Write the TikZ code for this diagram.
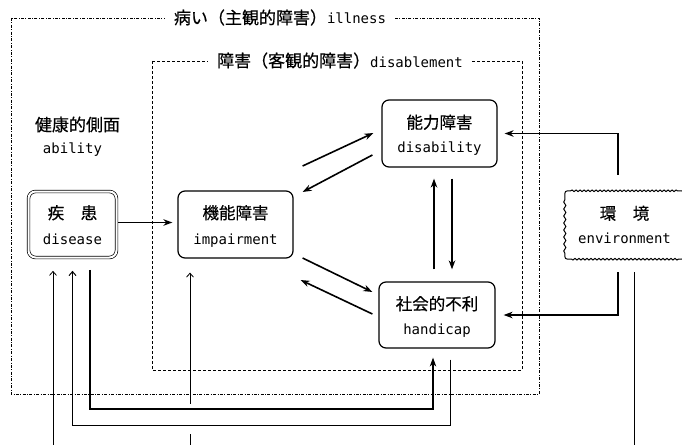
\documentclass[tikz,border=0pt]{standalone}
\usepackage{fontspec}
\newfontfamily\cjk[FakeBold=0.5]{Noto Sans CJK JP}
\newfontfamily\mono{DejaVu Sans Mono}
\usetikzlibrary{arrows.meta,calc,decorations.pathmorphing}
\begin{document}
\begin{tikzpicture}[x=1pt,y=-1pt,
  box/.style={draw, line width=1.2pt, rounded corners=7pt, inner sep=0pt},
  jp/.style={font=\cjk\fontsize{16.5}{18}\selectfont, anchor=base, inner sep=0pt},
  jpt/.style={font=\cjk\fontsize{17}{19}\selectfont, anchor=base, inner sep=0pt},
  en/.style={font=\mono\fontsize{14}{16}\selectfont, anchor=base, inner sep=0pt},
  arr/.style={line width=1.6pt, -{Stealth[length=9pt,width=6.5pt]}},
  thinarr/.style={line width=0.8pt, -{Straight Barb[length=4pt,width=7pt]}},
  thinline/.style={line width=0.8pt},
  outerframe/.style={line width=0.6pt, dash pattern=on 3pt off 1.5pt on 0.8pt off 1.5pt},
  innerframe/.style={line width=0.6pt, dash pattern=on 3pt off 2pt},
  titlebox/.style={fill=white, inner xsep=9pt, inner ysep=2pt},
  wavyh/.style={decoration={snake, amplitude=0.8pt, segment length=4pt}},
  wavyv/.style={decoration={snake, amplitude=1.1pt, segment length=7pt}}
]
\useasboundingbox (0,0) rectangle (682,444);

% frames
\draw[outerframe] (11,18) rectangle (539,394);
\draw[innerframe] (152,61) rectangle (522,370);
\node[titlebox, anchor=base] (illt) at (280,24) {{\cjk\fontsize{17}{19}\selectfont 病い（主観的障害）}{\mono\fontsize{14}{16}\selectfont illness}};
\node[titlebox, anchor=base] (disat) at (340,67) {{\cjk\fontsize{17}{19}\selectfont 障害（客観的障害）}{\mono\fontsize{14}{16}\selectfont disablement}};

% ability label
\node[jpt] (abjp) at (77.5,131) {健康的側面};
\node[en] (aben) at (72.5,153) {ability};

% boxes
\node[box, double, double distance=2pt, line width=0.7pt, minimum width=88pt, minimum height=66pt] (dis) at (72.5,224.5) {};
\node[box, minimum width=115pt, minimum height=67pt] (imp) at (235.5,224.5) {};
\node[box, minimum width=115pt, minimum height=67pt] (dsb) at (439.5,133.5) {};
\node[box, minimum width=116pt, minimum height=66pt] (hcp) at (437,315) {};
\node[minimum width=119pt, minimum height=68pt, inner sep=0pt] (env) at (624.5,225) {};
\draw[line width=1pt]
  ($(env.north west)+(6,0)$) decorate[wavyh] {-- ($(env.north east)+(-6,0)$)}
  .. controls (env.north east) .. ($(env.north east)+(0,6)$)
  decorate[wavyv] {-- ($(env.south east)+(0,-6)$)}
  .. controls (env.south east) .. ($(env.south east)+(-6,0)$)
  decorate[wavyh] {-- ($(env.south west)+(6,0)$)}
  .. controls (env.south west) .. ($(env.south west)+(0,-6)$)
  decorate[wavyv] {-- ($(env.north west)+(0,6)$)}
  .. controls (env.north west) .. ($(env.north west)+(6,0)$);

% box texts
\node[jp] (disjp) at ($(dis.center)+(0,-5.5)$) {疾　患};
\node[en] (disen) at ($(dis.center)+(0,20)$) {disease};
\node[jp] (impjp) at ($(imp.center)+(0,-5.5)$) {機能障害};
\node[en] (impen) at ($(imp.center)+(0,19.5)$) {impairment};
\node[jp] (dsbjp) at ($(dsb.center)+(0,-5)$) {能力障害};
\node[en] (dsben) at ($(dsb.center)+(0,18.5)$) {disability};
\node[jp] (hcpjp) at ($(hcp.center)+(0,-5)$) {社会的不利};
\node[en] (hcpen) at ($(hcp.center)+(0,19)$) {handicap};
\node[jp] (envjp) at ($(env.center)+(0,-5.5)$) {環　境};
\node[en] (envim) at ($(env.center)+(0,18)$) {environment};

% arrows
\draw[arr, shorten >=5pt] ($(dis.east)+(1.5,-2)$) -- ($(imp.west)+(0,-2)$);
\draw[arr] ($(imp.east)+(9,-58.5)$) -- ($(dsb.west)+(-8,-0.5)$);
\draw[arr] ($(dsb.west)+(-9,21.5)$) -- ($(imp.east)+(9,-32.5)$);
\draw[arr] ($(imp.east)+(9,33.5)$) -- ($(hcp.west)+(-6,-23)$);
\draw[arr] ($(hcp.west)+(-6,-1)$) -- ($(imp.east)+(7,55.5)$);
\draw[arr] ($(hcp.north)+(-3,-12)$) -- ($(dsb.south)+(-5.5,11)$);
\draw[arr] ($(dsb.south)+(12.5,11)$) -- ($(hcp.north)+(15,-12)$);
\draw[arr] ($(env.north)+(-6.5,-16)$) |- ($(dsb.east)+(7,0)$);
\draw[arr] ($(env.south)+(-6.5,13)$) |- ($(hcp.east)+(8,0)$);

% long feedback lines
\draw[line width=1.3pt, -{Stealth[length=9pt,width=6.5pt]}] ($(dis.south)+(17.5,12)$) -- ++(0,139) -| ($(hcp.south)+(-4,9)$);
\draw[line width=1pt, -{Straight Barb[length=4pt,width=7pt]}] ($(hcp.south)+(13,11)$) -- ++(0,66) -| ($(dis.south)+(0,13)$);

% lines from below
\coordinate (botA) at (53,446);
\coordinate (botB) at (190,446);
\coordinate (botC) at (634.5,446);
\draw[thinarr] (botA) -- ($(dis.south)+(-19.5,13)$);
\draw[thinline] (botB) -- ++(0,-12);
\draw[thinarr] ($(imp.south)+(-45.5,145)$) -- ($(imp.south)+(-45.5,14)$);
\draw[thinline] ($(env.south)+(10,13)$) -- (botC);
\end{tikzpicture}
\end{document}
